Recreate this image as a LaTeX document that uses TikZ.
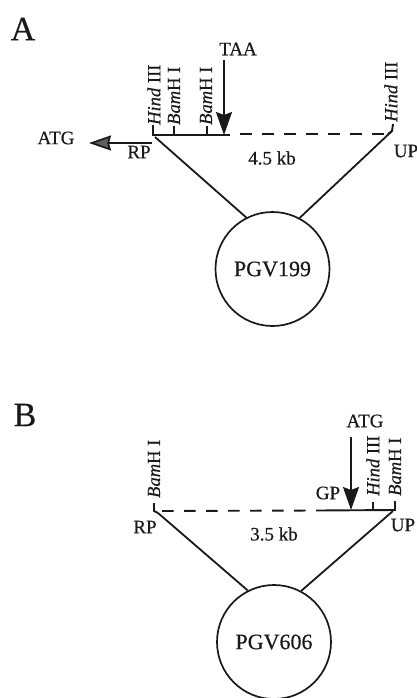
\documentclass[tikz,border=0pt]{standalone}
\usepackage{fontspec}
\setmainfont{Liberation Serif}[FakeBold=0.5, ItalicFeatures={FakeBold=0.5}]
\usepackage{xcolor}
\usetikzlibrary{arrows.meta, positioning}
\definecolor{inkColor}{RGB}{25,25,25}
\definecolor{headColor}{RGB}{95,95,95}
\tikzstyle{plasmid} = [circle, minimum size=114pt, inner sep=0pt, draw=inkColor, line width=1.7pt, text=inkColor, font=\fontsize{22}{24}\selectfont]
\tikzstyle{panel} = [inner sep=0pt, text=inkColor, font=\fontsize{34}{36}\selectfont]
\tikzstyle{tag} = [inner sep=0pt, text=inkColor, font=\fontsize{19}{21}\selectfont]
\tikzstyle{site} = [inner sep=0pt, text=inkColor, font=\fontsize{18.5}{20}\selectfont, rotate=90, anchor=west]
\tikzstyle{solidline} = [line width=1.9pt, draw=inkColor]
\tikzstyle{dashline} = [line width=1.9pt, draw=inkColor, dash pattern=on 11.5pt off 10.5pt]
\tikzstyle{arm} = [line width=1.8pt, draw=inkColor]
\tikzstyle{arrow} = [line width=1.9pt, draw=inkColor, -{Stealth[length=23pt, width=16pt, inset=3pt]}]
\tikzstyle{grayarrow} = [line width=1.7pt, draw=inkColor, -{Stealth[length=22pt, width=15pt, inset=2pt, fill=headColor]}]

\begin{document}
\begin{tikzpicture}[x=1pt, y=-1pt]
        \useasboundingbox (0,0) rectangle (417,698);

        % panel A
        \node (panelA) [panel] at (23,29) {A};
        \node (plasmidA) [plasmid] at (272.5,269) {PGV199};
        \coordinate (leftA) at (153,135);
        \coordinate (leftTopA) at (153,125);
        \coordinate (bamOneA) at (174,135);
        \coordinate (bamOneTopA) at (174,126);
        \coordinate (bamTwoA) at (207,135);
        \coordinate (bamTwoTopA) at (207,126);
        \coordinate (stopA) at (224,135);
        \coordinate (solidEndA) at (230,135);
        \coordinate (dashStartA) at (240,134);
        \coordinate (rightA) at (388,134);
        \coordinate (rightTopA) at (393,124);
        \coordinate (rightBendA) at (392,131);
        \coordinate (armLeftA) at (155,137);
        \node (hindLeftA) [site] at (154,125) {\textit{Hind} III};
        \node (bamOneLabelA) [site] at (174,125) {\textit{Bam}H I};
        \node (bamTwoLabelA) [site] at (206,125) {\textit{Bam}H I};
        \node (hindRightA) [site] at (391,122) {\textit{Hind} III};
        \node (taaA) [tag] at (238,49) {TAA};
        \node (atgA) [tag] at (56,138) {ATG};
        \node (rpA) [tag] at (139,152) {RP};
        \node (upA) [tag] at (406,151) {UP};
        \node (sizeA) [tag] at (272,158) {4.5 kb};
        \coordinate (atgTailA) at (152,143);
        \coordinate (atgTipA) at (89,143);
        \coordinate (taaTailA) at (224,60);

        \draw [solidline] (leftTopA) -- (leftA) -- (solidEndA);
        \draw [solidline] (bamOneTopA) -- (bamOneA);
        \draw [solidline] (bamTwoTopA) -- (bamTwoA);
        \draw [dashline] (dashStartA) -- (rightA);
        \draw [solidline] (rightTopA) -- (rightBendA) -- (rightA);
        \draw [arm] (armLeftA) -- (plasmidA.117);
        \draw [arm] (rightBendA) -- (plasmidA.62);
        \draw [arrow] (taaTailA) -- (stopA);
        \draw [grayarrow] (atgTailA) -- (atgTipA);

        % panel B
        \node (panelB) [panel] at (25,415) {B};
        \node (plasmidB) [plasmid] at (274,642) {PGV606};
        \coordinate (leftTopB) at (154,503);
        \coordinate (leftB) at (154,511);
        \coordinate (armLeftB) at (158,513);
        \coordinate (dashStartB) at (162,511);
        \coordinate (dashEndB) at (317,510.5);
        \coordinate (rightB) at (395,510);
        \coordinate (rightTopB) at (395,501);
        \coordinate (hindB) at (373,510);
        \coordinate (hindTopB) at (373,502);
        \coordinate (startB) at (351,510);
        \coordinate (startTailB) at (351,437);
        \coordinate (armRightB) at (393,511);
        \node (bamLeftB) [site] at (154,498) {\textit{Bam}H I};
        \node (hindLabelB) [site] at (373,496) {\textit{Hind} III};
        \node (bamRightB) [site] at (395,496) {\textit{Bam}H I};
        \node (atgB) [tag] at (365,421) {ATG};
        \node (gpB) [tag] at (328,493) {GP};
        \node (rpB) [tag] at (145,527) {RP};
        \node (upB) [tag] at (403,525) {UP};
        \node (sizeB) [tag] at (274,534) {3.5 kb};

        \draw [solidline] (leftTopB) -- (leftB) -- (armLeftB);
        \draw [dashline] (dashStartB) -- (dashEndB);
        \draw [solidline] (dashEndB) -- (rightB) -- (rightTopB);
        \draw [solidline] (hindTopB) -- (hindB);
        \draw [arm] (armLeftB) -- (plasmidB.117);
        \draw [arm] (armRightB) -- (plasmidB.62);
        \draw [arrow] (startTailB) -- (startB);
\end{tikzpicture}
\end{document}
